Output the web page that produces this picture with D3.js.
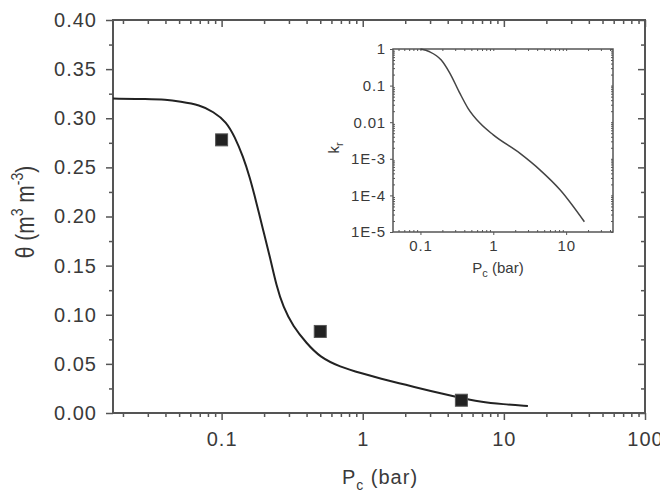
<!DOCTYPE html>
<html>
<head>
<meta charset="utf-8">
<script src="https://cdn.jsdelivr.net/npm/d3@7"></script>
<style>
  body { margin: 0; background: #fff; }
  svg text { font-family: "Liberation Sans", Arial, sans-serif; fill: #3a3a3a; }
  .axis path, .axis line { stroke: #555; }
</style>
</head>
<body>
<div class="chart"></div>
<script>
// main curve: water content vs capillary pressure
const curveP = [0.017, 0.03, 0.04, 0.0507, 0.0702, 0.0873, 0.108, 0.124, 0.142, 0.158, 0.177, 0.197, 0.22, 0.245, 0.273, 0.321, 0.4, 0.496, 0.687, 1.0, 1.32, 2.04, 2.98, 4.86, 6.73, 9.84, 14.8];
const curveTheta = [0.320, 0.3195, 0.319, 0.317, 0.3135, 0.3067, 0.2965, 0.281, 0.261, 0.2405, 0.2134, 0.186, 0.159, 0.129, 0.108, 0.088, 0.071, 0.057, 0.047, 0.040, 0.0353, 0.0285, 0.0227, 0.0156, 0.0115, 0.0089, 0.0071];

// measured points
const pointP = [0.1, 0.5, 5];
const pointTheta = [0.278, 0.083, 0.013];

// inset: relative permeability
const insetP = [0.1, 0.134, 0.193, 0.253, 0.347, 0.45, 0.66, 1, 2.33, 4.4, 8.3, 17.8];
const insetKr = [1, 0.84, 0.5, 0.22, 0.062, 0.024, 0.0093, 0.0045, 1.4e-3, 4.9e-4, 1.4e-4, 1.9e-5];

const xTicks = [0.1, 1, 10, 100];
const yTicks = [0, 0.05, 0.1, 0.15, 0.2, 0.25, 0.3, 0.35, 0.4];
const insetXTicks = [0.1, 1, 10];
const insetYTicks = [1, 0.1, 0.01, 1e-3, 1e-4, 1e-5];
const insetYLabels = ['1', '0.1', '0.01', '1E-3', '1E-4', '1E-5'];

const width = 660, height = 491;
const svg = d3.select('.chart').append('svg')
  .attr('width', width)
  .attr('height', height);

// minor ticks for log axes
function logMinor(lo, hi) {
  const out = [];
  for (let e = Math.floor(Math.log10(lo)); e <= Math.ceil(Math.log10(hi)); e++) {
    for (let m = 2; m <= 9; m++) {
      const v = m * Math.pow(10, e);
      if (v >= lo && v <= hi) out.push(v);
    }
  }
  return out;
}

// ---------- main plot ----------
const plot = {left: 113, right: 645, top: 20, bottom: 413};
const x = d3.scaleLog().domain([0.017, 100]).range([plot.left, plot.right]);
const y = d3.scaleLinear().domain([0, 0.4]).range([plot.bottom, plot.top]);

const xMinor = logMinor(0.017, 100);
const yMinor = d3.range(0.025, 0.4, 0.05);

function styleAxis(g) {
  g.attr('class', 'axis');
  g.select('.domain').remove();
  g.selectAll('line').attr('stroke-width', 1.5);
}

// bottom
svg.append('g').attr('transform', `translate(0,${plot.bottom})`)
  .call(d3.axisBottom(x).tickValues(xMinor).tickSize(4).tickFormat(''))
  .call(styleAxis);
svg.append('g').attr('transform', `translate(0,${plot.bottom})`)
  .call(d3.axisBottom(x).tickValues(xTicks).tickSize(7).tickPadding(12).tickFormat(d3.format('~g')))
  .call(styleAxis)
  .selectAll('text').attr('font-size', 20).attr('letter-spacing', 1);
// top (inward)
svg.append('g').attr('transform', `translate(0,${plot.top})`)
  .call(d3.axisBottom(x).tickValues(xMinor).tickSize(4).tickFormat(''))
  .call(styleAxis);
svg.append('g').attr('transform', `translate(0,${plot.top})`)
  .call(d3.axisBottom(x).tickValues(xTicks).tickSize(7).tickFormat(''))
  .call(styleAxis);
// left
svg.append('g').attr('transform', `translate(${plot.left},0)`)
  .call(d3.axisLeft(y).tickValues(yMinor).tickSize(4).tickFormat(''))
  .call(styleAxis);
svg.append('g').attr('transform', `translate(${plot.left},0)`)
  .call(d3.axisLeft(y).tickValues(yTicks).tickSize(7).tickPadding(9).tickFormat(d3.format('.2f')))
  .call(styleAxis)
  .selectAll('text').attr('font-size', 20).attr('letter-spacing', 1);
// right (inward)
svg.append('g').attr('transform', `translate(${plot.right},0)`)
  .call(d3.axisLeft(y).tickValues(yMinor).tickSize(4).tickFormat(''))
  .call(styleAxis);
svg.append('g').attr('transform', `translate(${plot.right},0)`)
  .call(d3.axisLeft(y).tickValues(yTicks).tickSize(7).tickFormat(''))
  .call(styleAxis);

// frame
svg.append('rect')
  .attr('x', plot.left).attr('y', plot.top)
  .attr('width', plot.right - plot.left).attr('height', plot.bottom - plot.top)
  .attr('fill', 'none').attr('stroke', '#555').attr('stroke-width', 2);

// curve
const line = d3.line()
  .x((d, i) => x(curveP[i]))
  .y((d, i) => y(curveTheta[i]))
  .curve(d3.curveBasis);
svg.append('path')
  .datum(curveP)
  .attr('d', line)
  .attr('fill', 'none')
  .attr('stroke', '#222')
  .attr('stroke-width', 2);

// points
svg.selectAll('.pt')
  .data(pointP)
  .join('rect')
  .attr('class', 'pt')
  .attr('x', d => x(d) - 6)
  .attr('y', (d, i) => y(pointTheta[i]) - 6)
  .attr('width', 12).attr('height', 12)
  .attr('fill', '#222')
  .attr('stroke', '#555').attr('stroke-width', 1);

// axis titles
const xTitle = svg.append('text')
  .attr('x', 380).attr('y', 484)
  .attr('text-anchor', 'middle')
  .attr('font-size', 20).attr('letter-spacing', 1);
xTitle.append('tspan').text('P');
xTitle.append('tspan').attr('font-size', 14).attr('dy', 6).text('c');
xTitle.append('tspan').attr('dy', -6).text(' (bar)');

const yTitle = svg.append('text')
  .attr('transform', 'translate(34,212) rotate(-90) scale(1,1.2)')
  .attr('text-anchor', 'middle')
  .attr('font-size', 21);
yTitle.append('tspan').text('θ (m');
yTitle.append('tspan').attr('font-size', 14).attr('dy', -9).text('3');
yTitle.append('tspan').attr('dy', 9).text(' m');
yTitle.append('tspan').attr('font-size', 14).attr('dy', -9).text('-3');
yTitle.append('tspan').attr('dy', 9).text(')');

// ---------- inset ----------
const ins = {left: 393, right: 613, top: 49, bottom: 232};
const xi = d3.scaleLog().domain([0.042, 44]).range([ins.left, ins.right]);
const yi = d3.scaleLog().domain([1e-5, 1]).range([ins.bottom, ins.top]);
const xiMinor = logMinor(0.042, 44);
const yiMinor = logMinor(1e-5, 1);

function styleInset(g) {
  g.attr('class', 'axis');
  g.select('.domain').remove();
  g.selectAll('line').attr('stroke-width', 1);
}

svg.append('g').attr('transform', `translate(0,${ins.bottom})`)
  .call(d3.axisTop(xi).tickValues(xiMinor).tickSize(2).tickFormat(''))
  .call(styleInset);
svg.append('g').attr('transform', `translate(0,${ins.bottom})`)
  .call(d3.axisBottom(xi).tickValues(insetXTicks).tickSize(3).tickPadding(5).tickFormat(d3.format('~g')))
  .call(styleInset)
  .selectAll('text').attr('font-size', 15).attr('letter-spacing', 0.8);
svg.append('g').attr('transform', `translate(0,${ins.top})`)
  .call(d3.axisBottom(xi).tickValues(xiMinor.concat(insetXTicks)).tickSize(2).tickFormat(''))
  .call(styleInset);
svg.append('g').attr('transform', `translate(${ins.left},0)`)
  .call(d3.axisRight(yi).tickValues(yiMinor).tickSize(2).tickFormat(''))
  .call(styleInset);
svg.append('g').attr('transform', `translate(${ins.left},0)`)
  .call(d3.axisLeft(yi).tickValues(insetYTicks).tickSize(3).tickPadding(4).tickFormat((d, i) => insetYLabels[i]))
  .call(styleInset)
  .selectAll('text').attr('font-size', 15).attr('letter-spacing', 0.8);
svg.append('g').attr('transform', `translate(${ins.right},0)`)
  .call(d3.axisLeft(yi).tickValues(yiMinor.concat(insetYTicks)).tickSize(2).tickFormat(''))
  .call(styleInset);

svg.append('rect')
  .attr('x', ins.left).attr('y', ins.top)
  .attr('width', ins.right - ins.left).attr('height', ins.bottom - ins.top)
  .attr('fill', 'none').attr('stroke', '#555').attr('stroke-width', 1.5);

const insetLine = d3.line()
  .x((d, i) => xi(insetP[i]))
  .y((d, i) => yi(insetKr[i]))
  .curve(d3.curveMonotoneX);
svg.append('path')
  .datum(insetP)
  .attr('d', insetLine)
  .attr('fill', 'none')
  .attr('stroke', '#444')
  .attr('stroke-width', 1.5);

const xiTitle = svg.append('text')
  .attr('x', 498).attr('y', 273)
  .attr('text-anchor', 'middle')
  .attr('font-size', 15);
xiTitle.append('tspan').text('P');
xiTitle.append('tspan').attr('font-size', 11).attr('dy', 4).text('c');
xiTitle.append('tspan').attr('dy', -4).text(' (bar)');

const yiTitle = svg.append('text')
  .attr('transform', 'translate(339,148) rotate(-90)')
  .attr('text-anchor', 'middle')
  .attr('font-size', 15);
yiTitle.append('tspan').text('k');
yiTitle.append('tspan').attr('font-size', 11).attr('dy', 4).text('r');
</script>
</body>
</html>
